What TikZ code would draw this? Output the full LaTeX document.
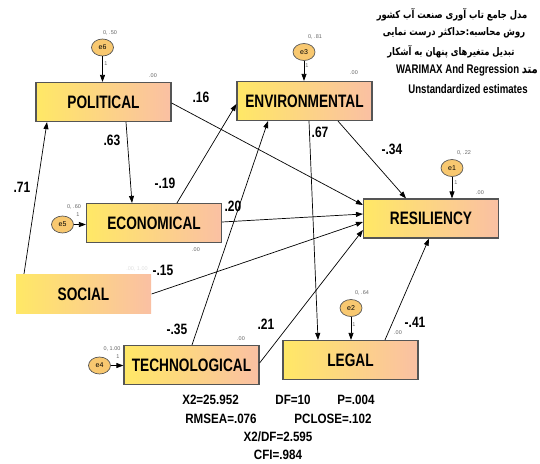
\documentclass[tikz,border=0pt]{standalone}
\usepackage{fontspec}
\setmainfont{Liberation Sans}
\newfontfamily\boxfont[FakeStretch=0.76]{Liberation Sans Bold}
\newfontfamily\coeffont[FakeStretch=0.8]{Liberation Sans Bold}
\newfontfamily\fitfont[FakeStretch=0.86]{Liberation Sans Bold}
\newfontfamily\titlefont[FakeStretch=0.77]{Liberation Sans Bold}
\newfontfamily\persfont[Script=Arabic,FakeStretch=0.8]{DejaVu Sans Bold}
\newfontfamily\notefont{Liberation Sans}
\TeXXeTstate=1
\usetikzlibrary{positioning, arrows.meta, shapes.geometric}

\definecolor{boxyellow}{RGB}{255,232,102}
\definecolor{boxsalmon}{RGB}{250,192,163}
\definecolor{boxline}{RGB}{85,85,85}
\definecolor{errfill}{RGB}{248,200,112}

\begin{document}
\begin{tikzpicture}[
    x=1pt, y=-1pt,
    var/.style={rectangle, draw=boxline, line width=1.2pt, minimum width=135pt, minimum height=39pt,
        left color=boxyellow, right color=boxsalmon, inner sep=0pt, font=\boxfont\fontsize{18}{18}\selectfont},
    err/.style={ellipse, draw=boxline, line width=0.7pt, fill=errfill, minimum width=22pt, minimum height=17pt,
        inner sep=0pt, font=\notefont\fontsize{7}{7}\selectfont},
    path/.style={-{Triangle[length=7pt, width=5pt]}, line width=0.7pt},
    coef/.style={font=\coeffont\fontsize{15}{15}\selectfont},
    note/.style={font=\notefont\fontsize{5.5}{5.5}\selectfont, text=gray!80!black, inner sep=0pt},
    fit/.style={font=\fitfont\fontsize{13.5}{13.5}\selectfont, inner sep=0pt},
    title/.style={font=\titlefont\fontsize{12.5}{12.5}\selectfont, inner sep=0pt},
    pers/.style={font=\persfont\fontsize{10.5}{10.5}\selectfont, inner sep=0pt},
]
\useasboundingbox (0,0) rectangle (540,463);

% Variables
\node[var] (pol) at (103.5,102) {POLITICAL};
\node[var] (env) at (304.5,101) {ENVIRONMENTAL};
\node[var] (res) at (431,218.5) {RESILIENCY};
\node[var] (eco) at (154,223) {ECONOMICAL};
\node[var, draw=none] (soc) at (83.5,294) {SOCIAL};
\node[var] (tec) at (191.5,365) {TECHNOLOGICAL};
\node[var] (leg) at (350.5,360) {LEGAL};

% Error terms
\node[err] (e6) at (102.5,47.5) {e6};
\node[err] (e3) at (304,52) {e3};
\node[err] (e1) at (452,168) {e1};
\node[err] (e5) at (62.5,224.5) {e5};
\node[err] (e4) at (99.5,365.5) {e4};
\node[err] (e2) at (351,308) {e2};

\draw[path] (e6.south) -- (e6.south |- pol.north);
\draw[path] (e3.south) -- (e3.south |- env.north);
\draw[path] (e1.south) -- (e1.south |- res.north);
\draw[path] (e5.east) -- (e5.east -| eco.west);
\draw[path] (e4.east) -- (e4.east -| tec.west);
\draw[path] (e2.south) -- (e2.south |- leg.north);

% Variances, weights and intercepts
\node[note] (v6) at (110,33) {0, .50};
\node[note] (v3) at (315,37) {0, .81};
\node[note] (v1) at (464,153) {0, .22};
\node[note] (v5) at (74,207) {0, .60};
\node[note] (v4) at (112,349) {0, 1.00};
\node[note] (v2) at (362,293) {0, .64};
\node[note, text=gray!25] (vs) at (137,269) {.00, 1.00};
\node[note] (w6) at (106,64) {1};
\node[note] (w3) at (307,66) {1};
\node[note] (w1) at (456,183) {1};
\node[note] (w5) at (78,215) {1};
\node[note] (w4) at (118,357) {1};
\node[note] (w2) at (354,325) {1};
\node[note] (i6) at (153,76) {.00};
\node[note] (i3) at (354,73) {.00};
\node[note] (i1) at (480,193) {.00};
\node[note] (i5) at (196,250) {.00};
\node[note] (i4) at (241,339) {.00};
\node[note] (i2) at (398,333) {.00};

% Paths
\draw[path] ([xshift=-59.5pt]soc.north) -- ([xshift=-56.5pt]pol.south);
\draw[path] ([xshift=22.5pt]pol.south) -- ([xshift=-22pt]eco.north);
\draw[path] ([yshift=-1pt]pol.east) -- ([yshift=13.5pt]res.west);
\draw[path] ([xshift=23pt]eco.north) -- ([yshift=-3pt]env.west);
\draw[path] ([xshift=0.5pt]tec.north) -- ([xshift=-36.5pt]env.south);
\draw[path] ([yshift=1pt]eco.east) -- ([yshift=4.5pt]res.west);
\draw[path] (soc.east) -- ([yshift=-3.5pt]res.west);
\draw[path] ([yshift=2pt]tec.east) -- ([yshift=-11.5pt]res.west);
\draw[path] ([xshift=33.5pt]env.south) -- ([xshift=-25pt]res.north);
\draw[path] ([xshift=4.5pt]env.south) -- ([xshift=-32.5pt]leg.north);
\draw[path] ([xshift=34.5pt]leg.north) -- ([xshift=-2pt]res.south);

% Estimates
\node[coef] (c71) at (22,187) {.71};
\node[coef] (c63) at (112,140) {.63};
\node[coef] (c16) at (201,97) {.16};
\node[coef] (c19) at (165,183) {-.19};
\node[coef] (c20) at (233,206) {.20};
\node[coef] (c67) at (320,132) {.67};
\node[coef] (c34) at (392,149) {-.34};
\node[coef] (c15) at (163,270) {-.15};
\node[coef] (c35) at (177,329) {-.35};
\node[coef] (c21) at (266,324) {.21};
\node[coef] (c41) at (415,322) {-.41};

% Fit
\node[fit] (chi) at (210.5,400) {X2=25.952};
\node[fit] (df) at (293,400) {DF=10};
\node[fit] (pv) at (356,400) {P=.004};
\node[fit] (rmsea) at (221,419) {RMSEA=.076};
\node[fit] (pclose) at (333,419) {PCLOSE=.102};
\node[fit] (chidf) at (278,437) {X2/DF=2.595};
\node[fit] (cfi) at (278,455) {CFI=.984};

% Title
\node[pers] (t1) at (452,15) {\beginR مدل جامع تاب آوری صنعت آب کشور\endR};
\node[pers] (t2) at (454,33) {\beginR روش محاسبه:حداکثر درست نمایی\endR};
\node[pers] (t3) at (451,52) {\beginR تبدیل متغیرهای پنهان به آشکار\endR};
\node[title] (t4) at (467,70) {WARIMAX And Regression {\persfont\beginR متد\endR}};
\node[title] (t5) at (468,89) {Unstandardized estimates};

\end{tikzpicture}
\end{document}
